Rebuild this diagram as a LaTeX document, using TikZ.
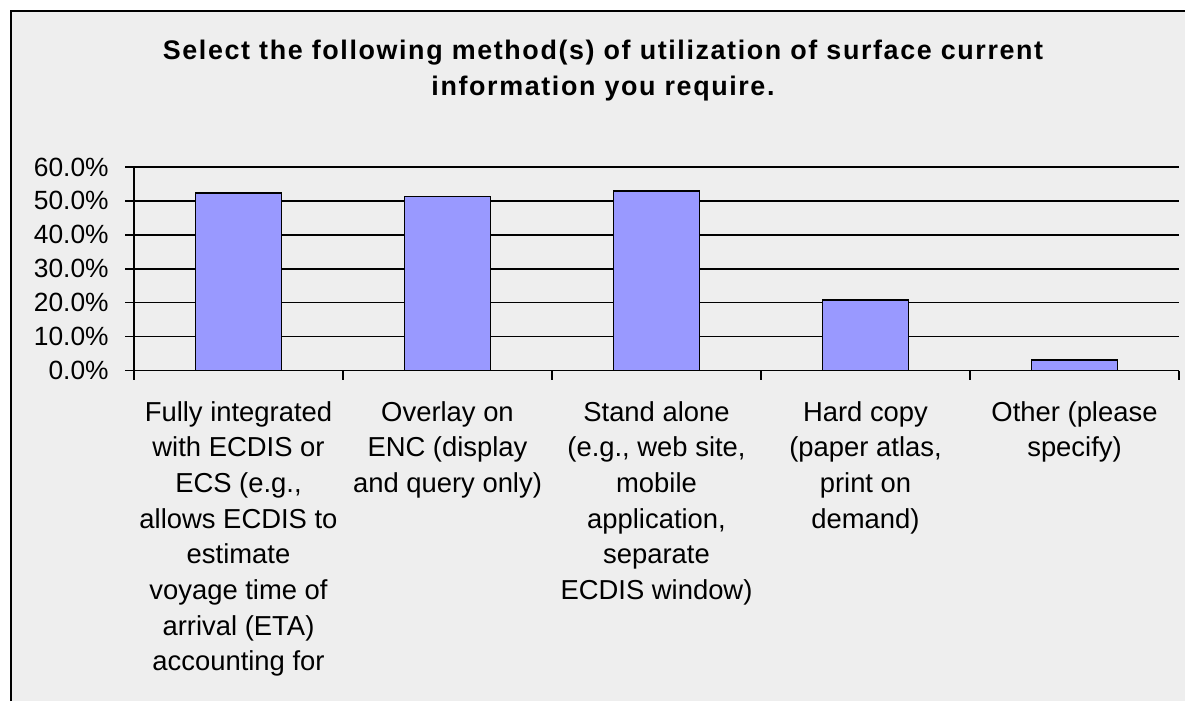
\documentclass[tikz,border=0pt]{standalone}
\usepackage{fontspec}
\setmainfont{Liberation Sans}
\newfontfamily\titrefont[LetterSpace=6]{Liberation Sans}
\usetikzlibrary{positioning}
\definecolor{fondGris}{RGB}{238,238,238}
\definecolor{barreBleu}{RGB}{153,153,255}

\begin{document}
\begin{tikzpicture}[x=0.02cm,y=-0.02cm,
  grille/.style={black,line width=0.9pt},
  barre/.style={draw=black,line width=1.1pt,fill=barreBleu},
  graduation/.style={font=\fontsize{15}{17}\selectfont,anchor=east,inner sep=0pt},
  categorie/.style={font=\fontsize{15.6}{20.3}\selectfont,align=center,anchor=north,inner sep=0pt}]

  \useasboundingbox (0,0) rectangle (1185,701);
  \fill[white] (0,0) rectangle (1185,701);
  \fill[fondGris] (11,11) rectangle (1185,701);
  \draw[line width=1.2pt] (11,701) -- (11,11) -- (1185,11);

  \node[font=\titrefont\bfseries\fontsize{15.3}{20.5}\selectfont,align=center,anchor=north,inner sep=0pt]
    (titre) at (603,40) {Select the following method(s) of utilization of surface current\\information you require.};

  % grille et graduations
  \foreach \v in {0,10,...,60}{
    \draw[grille] (125,{370.5-3.392*\v}) -- (1179,{370.5-3.392*\v});
    \node[graduation] (grad\v) at (109,{370.5-3.392*\v}) {\v.0\%};
  }
  \draw[grille] (134,167) -- (134,380);
  \foreach \k in {1,...,5}
    \draw[grille] ({134+209*\k},370.5) -- ({134+209*\k},380);

  % barres
  \foreach \v [count=\i] in {52.4,51.3,52.9,20.9,3.1}
    \draw[barre] ({134+209*(\i-0.5)-43},{370.5-3.392*\v}) rectangle ({134+209*(\i-0.5)+43},370.5);

  \node[categorie] (cat1) at (238.5,401) {Fully integrated\\with ECDIS or\\ECS (e.g.,\\allows ECDIS to\\estimate\\voyage time of\\arrival (ETA)\\accounting for};
  \node[categorie] (cat2) at (447.5,401) {Overlay on\\ENC (display\\and query only)};
  \node[categorie] (cat3) at (656.5,401) {Stand alone\\(e.g., web site,\\mobile\\application,\\separate\\ECDIS window)};
  \node[categorie] (cat4) at (865.5,401) {Hard copy\\(paper atlas,\\print on\\demand)};
  \node[categorie] (cat5) at (1074.5,401) {Other (please\\specify)};
\end{tikzpicture}
\end{document}
